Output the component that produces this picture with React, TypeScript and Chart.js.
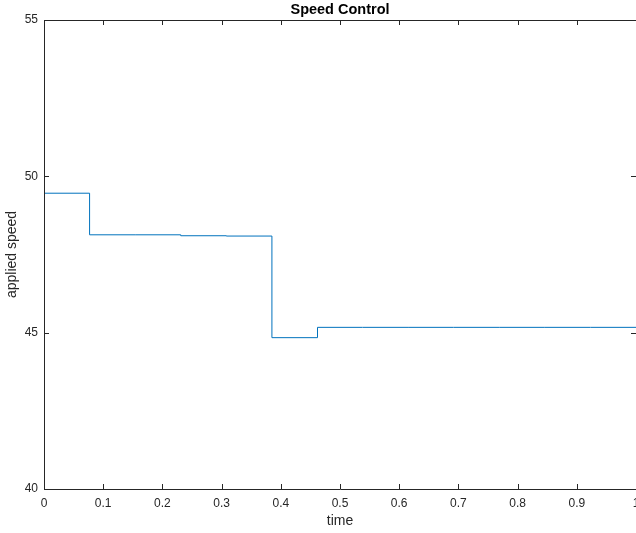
import { useEffect, useRef } from "react";
import { Chart, registerables } from "chart.js";

Chart.register(...registerables);

// sample times (s) and the speed applied over each interval
const times = [0, 0.077, 0.154, 0.231, 0.308, 0.385, 0.462, 0.538, 0.615, 0.692, 0.769, 0.846, 0.923, 1];
const speeds = [49.46, 48.13, 48.13, 48.1, 48.09, 44.84, 45.17, 45.17, 45.17, 45.17, 45.17, 45.17, 45.17, 45.17];

const xTicks = [0, 0.1, 0.2, 0.3, 0.4, 0.5, 0.6, 0.7, 0.8, 0.9, 1];
const yTicks = [40, 45, 50, 55];

const FONT = '"Liberation Sans", Arial, Helvetica, sans-serif';
const AXIS_COLOR = "#262626";

// MATLAB-like box, inward ticks, title and axis labels
const matlabAxes = {
  id: "matlabAxes",
  afterDraw(chart: any) {
    const { ctx, chartArea: a, scales } = chart;
    const x = scales.x;
    const y = scales.y;
    ctx.save();
    ctx.strokeStyle = AXIS_COLOR;
    ctx.lineWidth = 1;
    ctx.beginPath();
    ctx.rect(Math.round(a.left) + 0.5, Math.round(a.top) + 0.5, Math.round(a.right - a.left), Math.round(a.bottom - a.top));
    const len = 5;
    xTicks.forEach((t) => {
      const px = Math.round(x.getPixelForValue(t)) + 0.5;
      ctx.moveTo(px, a.bottom);
      ctx.lineTo(px, a.bottom - len);
      ctx.moveTo(px, a.top);
      ctx.lineTo(px, a.top + len);
    });
    yTicks.forEach((t) => {
      const py = Math.round(y.getPixelForValue(t)) + 0.5;
      ctx.moveTo(a.left, py);
      ctx.lineTo(a.left + len, py);
      ctx.moveTo(a.right, py);
      ctx.lineTo(a.right - len, py);
    });
    ctx.stroke();

    ctx.fillStyle = "#000";
    ctx.textAlign = "center";
    ctx.textBaseline = "middle";
    ctx.font = `bold 14.5px ${FONT}`;
    ctx.fillText("Speed Control", (a.left + a.right) / 2, 9.5);

    ctx.fillStyle = AXIS_COLOR;
    ctx.font = `14px ${FONT}`;
    ctx.fillText("time", (a.left + a.right) / 2, 521);
    ctx.translate(12, (a.top + a.bottom) / 2);
    ctx.rotate(-Math.PI / 2);
    ctx.fillText("applied speed", 0, 0);
    ctx.restore();
  },
};

export default function App() {
  const canvasRef = useRef<HTMLCanvasElement>(null);

  useEffect(() => {
    if (!canvasRef.current) return;
    const chart = new Chart(canvasRef.current, {
      type: "line",
      data: {
        datasets: [
          {
            data: times.map((t, i) => ({ x: t, y: speeds[i] })),
            borderColor: "#0072BD",
            borderWidth: 1,
            pointRadius: 0,
            stepped: true,
            fill: false,
          },
        ],
      },
      options: {
        animation: false,
        responsive: false,
        devicePixelRatio: 1,
        layout: { padding: { top: 20, right: 0, left: 0, bottom: 0 } },
        plugins: {
          legend: { display: false },
          title: { display: false },
          tooltip: { enabled: false },
        },
        scales: {
          x: {
            type: "linear",
            min: 0,
            max: 1,
            afterBuildTicks: (scale: any) => {
              scale.ticks = xTicks.map((v) => ({ value: v }));
            },
            afterFit: (scale: any) => {
              scale.height = 44;
              scale.paddingLeft = 0;
              scale.paddingRight = 0;
            },
            grid: { display: false, drawTicks: false },
            border: { display: false },
            ticks: {
              padding: 7,
              maxRotation: 0,
              autoSkip: false,
              color: AXIS_COLOR,
              font: { family: FONT, size: 12 },
              callback: (v: any) => String(Math.round(Number(v) * 10) / 10),
            },
          },
          y: {
            min: 40,
            max: 55,
            afterBuildTicks: (scale: any) => {
              scale.ticks = yTicks.map((v) => ({ value: v }));
            },
            afterFit: (scale: any) => {
              scale.width = 44;
              scale.paddingTop = 0;
              scale.paddingBottom = 0;
            },
            grid: { display: false, drawTicks: false },
            border: { display: false },
            ticks: {
              padding: 6,
              color: AXIS_COLOR,
              font: { family: FONT, size: 12 },
            },
          },
        },
      },
      plugins: [matlabAxes],
    });
    return () => chart.destroy();
  }, []);

  return (
    <div style={{ position: "fixed", left: 0, top: 0, width: 636, height: 533, background: "#fff" }}>
      <canvas ref={canvasRef} width={636} height={533}></canvas>
    </div>
  );
}
